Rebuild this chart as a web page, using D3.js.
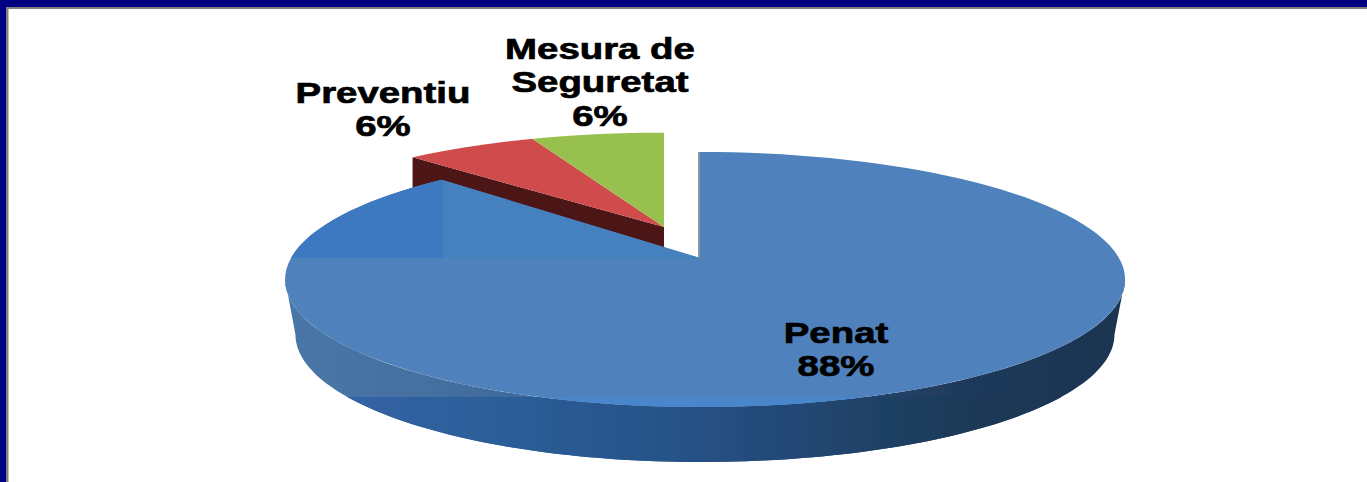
<!DOCTYPE html>
<html>
<head>
<meta charset="utf-8">
<script src="https://cdn.jsdelivr.net/npm/d3@7"></script>
<style>
html, body { margin: 0; padding: 0; background: #fff; overflow: hidden; }
text { font-family: "Liberation Sans", Arial, sans-serif; font-weight: bold; fill: #000; stroke: #000; stroke-width: 0.7; text-anchor: middle; }
</style>
</head>
<body>
<div id="chart"></div>
<script>
const categories = ['Penat', 'Preventiu', 'Mesura de Seguretat'];
const counts = [14, 1, 1];
const labelLines = [['Penat'], ['Preventiu'], ['Mesura de', 'Seguretat']];

const width = 1367;
const height = 482;
const fills = ['#4f81bd', '#d04c4c', '#98c04f'];

// perspective disc: far side is squeezed, near side is stretched
const apexX = 700, apexY = 258;
const radiusXRight = 419, radiusXLeft = 409, radiusY = 123.9, tilt = 0.1686;
const depth = 55;

const project = (a, opt = {}) => {
    const { dx = 0, dy = 0, kx = 1, ky = 1 } = opt;
    const px = Math.sin(a), py = Math.cos(a);
    const w = 1 + tilt * py;
    const rx = px > 0 ? radiusXRight : radiusXLeft;
    return [dx + apexX + (kx * rx * px) / w, dy + apexY - (ky * radiusY * py) / w];
};

const line = d3.line();
const sweep = (a0, a1, opt) =>
    d3.range(0, 121).map((i) => project(a0 + ((a1 - a0) * i) / 120, opt));

const total = d3.sum(counts);
const arcs = d3.pie().sort(null)(counts);
const pct = d3.format('.0%');

const svg = d3
    .select('#chart')
    .append('svg')
    .attr('width', width)
    .attr('height', height)
    .style('display', 'block');

const defs = svg.append('defs');
defs.append('filter')
    .attr('id', 'soft')
    .attr('x', '-5%').attr('y', '-5%').attr('width', '110%').attr('height', '110%')
    .append('feGaussianBlur')
    .attr('stdDeviation', 0.7);

const gradient = (id, stops) => {
    const g = defs.append('linearGradient')
        .attr('id', id)
        .attr('gradientUnits', 'userSpaceOnUse')
        .attr('x1', 285).attr('x2', 1125).attr('y1', 0).attr('y2', 0);
    stops.forEach(([o, c]) => g.append('stop').attr('offset', o).attr('stop-color', c));
};
gradient('wallUpper', [[0, '#4a76a8'], [0.3, '#3f6a9a'], [0.55, '#2d5480'], [0.8, '#1f3a5c'], [1, '#1f3450']]);
gradient('wallLower', [[0, '#3465a8'], [0.25, '#2c5e9a'], [0.5, '#265084'], [0.8, '#1c3a58'], [1, '#1c3350']]);

const clip = (id, x, y, w, h) =>
    defs.append('clipPath').attr('id', id)
        .append('rect').attr('x', x).attr('y', y).attr('width', w).attr('height', h);
clip('belowSeam', 0, 397, width, 85);
clip('leftOfSeam', 0, 0, 443, 258);
clip('midSeam', 443, 0, 257, 258);

const pie = svg.append('g').attr('filter', 'url(#soft)');

// the two small slices sit moved away from the big one
const moved = { dx: -36, dy: -31, kx: 0.973, ky: 0.89 };
const apex = [apexX + moved.dx, apexY + moved.dy];

arcs.slice(1).forEach((d, i) => {
    const rim = sweep(d.startAngle, d.endAngle, moved);
    if (i === 0) {
        const corner = rim[0];
        pie.append('path')
            .attr('d', line([corner, apex, [apex[0], apex[1] + depth], [corner[0], corner[1] + depth]]) + 'Z')
            .attr('fill', '#4e1416');
    }
    pie.append('path')
        .attr('d', line([apex, ...rim]) + 'Z')
        .attr('fill', fills[i + 1]);
});

// side wall of the big slice
const wallTop = sweep(Math.PI / 2 + Math.asin(tilt), (3 * Math.PI) / 2 - Math.asin(tilt));
const wallBottom = sweep(
    (3 * Math.PI) / 2 - Math.asin(tilt),
    Math.PI / 2 + Math.asin(tilt),
    { dy: depth, kx: 0.975, ky: 1 },
);
const wallPath = line([...wallTop, ...wallBottom]) + 'Z';
pie.append('path').attr('d', wallPath).attr('fill', 'url(#wallUpper)');
pie.append('path').attr('d', wallPath).attr('fill', 'url(#wallLower)').attr('clip-path', 'url(#belowSeam)');

// top face of the big slice
const big = arcs[0];
const bigPath = line([[apexX, apexY], ...sweep(big.startAngle, big.endAngle)]) + 'Z';
pie.append('path').attr('d', bigPath).attr('fill', fills[0]);
[['belowSeam', '#4a86cc'], ['leftOfSeam', '#3e79c0'], ['midSeam', '#4481bf']].forEach(([id, c]) => {
    pie.append('g').attr('clip-path', `url(#${id})`)
        .append('path').attr('d', bigPath).attr('fill', c);
});
// grey rim along the cut edge
pie.append('path')
    .attr('d', line([[apexX - 1, apexY], project(big.startAngle, { dx: -1 })]))
    .attr('stroke', '#8a97a6')
    .attr('stroke-width', 2)
    .attr('fill', 'none');

// labels: stretched sideways like the reference
const labelAt = [[836, 343], [383, 103], [600, 59]];
const stretch = 1.28;
arcs.forEach((d, i) => {
    const lines = [...labelLines[i], pct(counts[i] / total)];
    const g = svg.append('g')
        .attr('transform', `translate(${labelAt[i][0]},${labelAt[i][1]}) scale(${stretch},1)`)
        .attr('aria-label', categories[i]);
    g.selectAll('text')
        .data(lines)
        .join('text')
        .attr('y', (t, j) => j * 33.5)
        .attr('font-size', 30)
        .text((t) => t);
});

// frame
svg.append('rect').attr('x', 6).attr('y', 7).attr('width', width).attr('height', 2).attr('fill', '#808080');
svg.append('rect').attr('x', 6).attr('y', 7).attr('width', 2.5).attr('height', height).attr('fill', '#808080');
svg.append('rect').attr('width', width).attr('height', 7).attr('fill', '#000080');
svg.append('rect').attr('width', 6).attr('height', height).attr('fill', '#000080');
</script>
</body>
</html>
